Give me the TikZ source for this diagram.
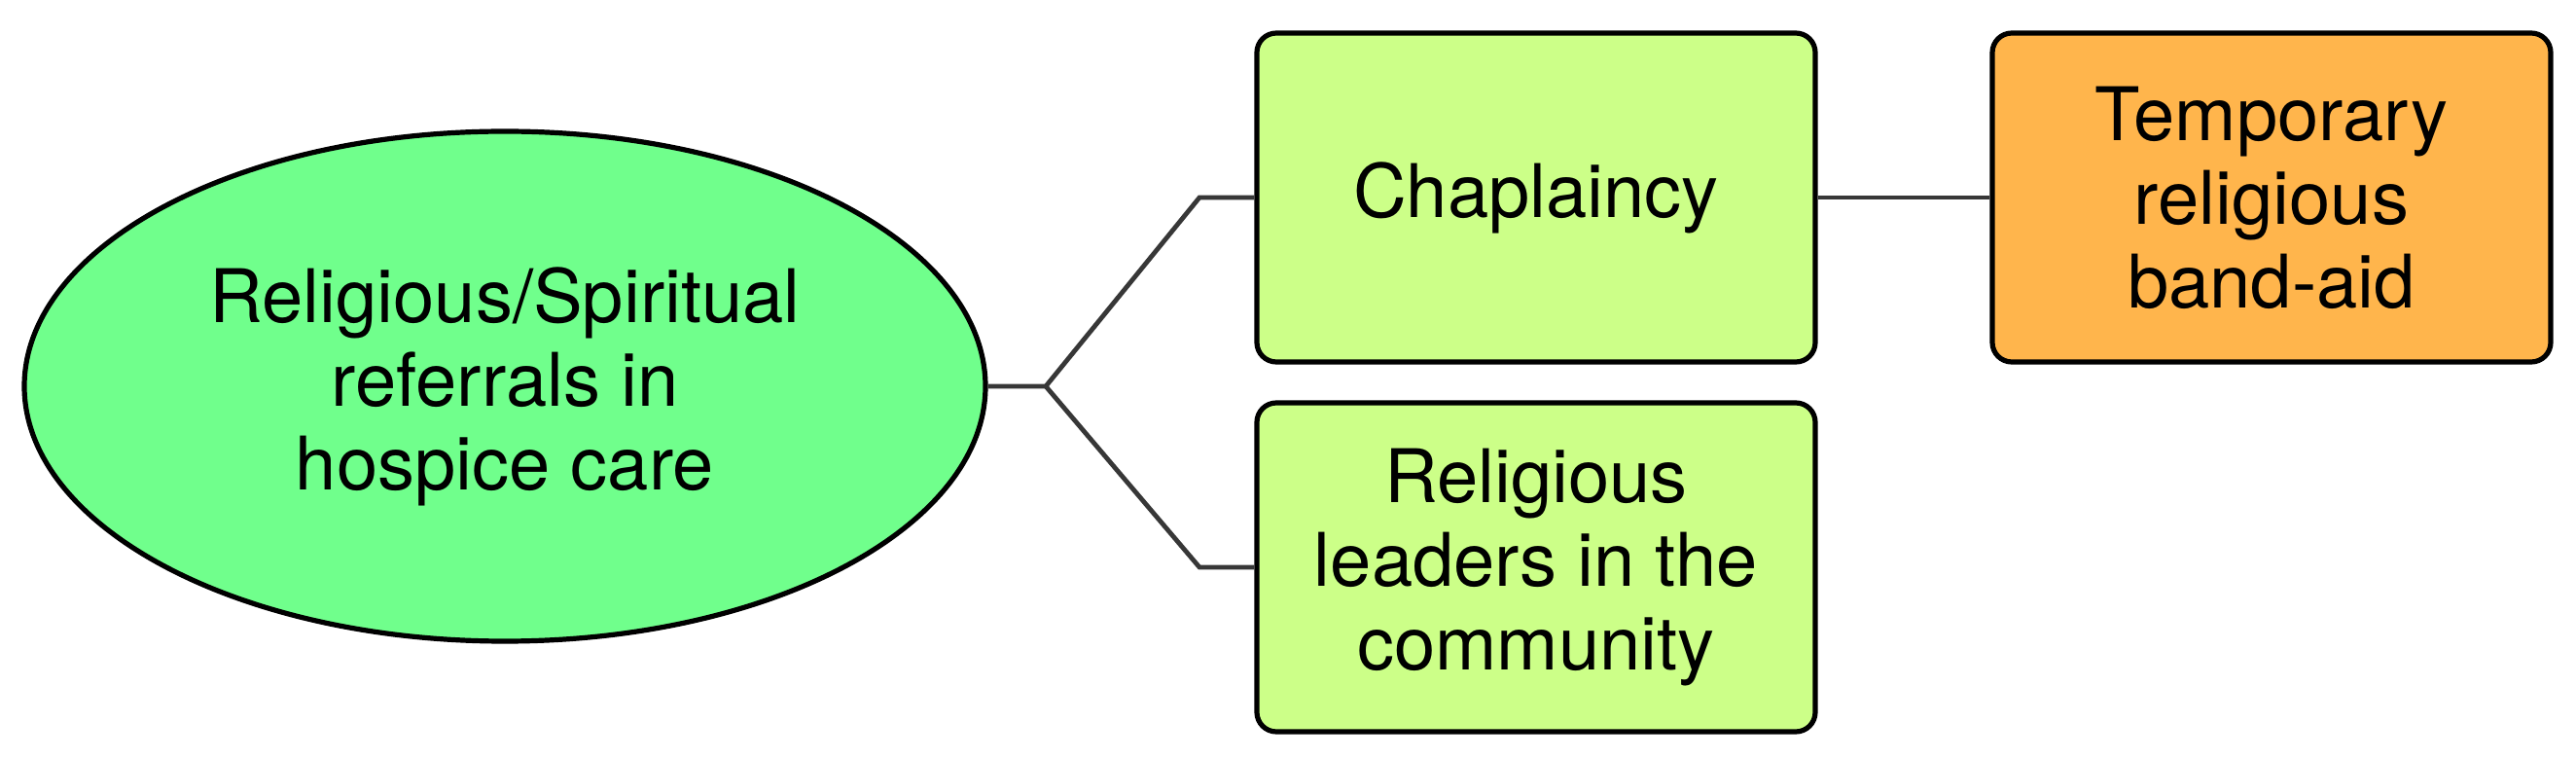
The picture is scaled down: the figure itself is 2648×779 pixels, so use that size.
\documentclass[tikz,border=0pt]{standalone}
\usepackage{fontspec}
\setmainfont{TeX Gyre Heros}
\usetikzlibrary{shapes.geometric}
\definecolor{ellgreen}{RGB}{112,255,140}
\definecolor{boxgreen}{RGB}{204,255,136}
\definecolor{boxorange}{RGB}{255,181,76}
\definecolor{linegray}{RGB}{55,55,55}
\begin{document}
\begin{tikzpicture}[x=0.25pt,y=-0.25pt,
  txt/.style={font=\fontsize{19}{21.5}\selectfont, align=center, text=black},
  mainell/.style={ellipse, draw=black, line width=1.3pt, fill=ellgreen, inner sep=0pt,
    minimum width=247pt, minimum height=131pt, txt},
  leafbox/.style={rectangle, rounded corners=5pt, draw=black, line width=1.3pt,
    inner sep=0pt, minimum width=143.5pt, minimum height=84.5pt, txt},
  conn/.style={draw=linegray, line width=1.2pt}]
\useasboundingbox (0,0) rectangle (2648,779);
\node[mainell] (root) at (519,397) {Religious/Spiritual\\referrals in\\hospice care};
\node[leafbox, fill=boxgreen] (chap) at (1579,203) {Chaplaincy};
\node[leafbox, fill=boxgreen] (lead) at (1579,583) {Religious\\leaders in the\\community};
\node[leafbox, fill=boxorange] (temp) at (2335,203) {Temporary\\religious\\band-aid};
\coordinate (j) at (1075,397);
\coordinate (b1) at (1233,203);
\coordinate (b2) at (1233,583);
\draw[conn] (root.east) -- (j) -- (b1) -- (chap.west);
\draw[conn] (j) -- (b2) -- (lead.west);
\draw[conn] (chap.east) -- (temp.west);
\end{tikzpicture}
\end{document}
